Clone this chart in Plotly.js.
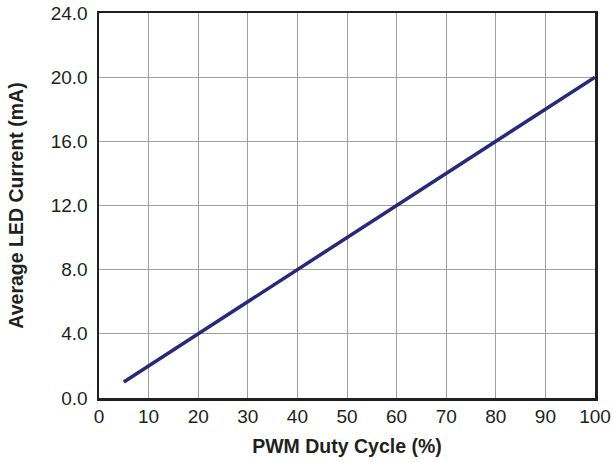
<!DOCTYPE html>
<html>
<head>
<script src="https://cdn.plot.ly/plotly-3.0.1.min.js"></script>
<style>body{margin:0;padding:0;background:#fff;}#chart{width:612px;height:462px;}</style>
</head>
<body>
<div id="chart"></div>
<script>
const dutyCycle = [5, 100];
const ledCurrent = [1.0, 20.0];
const xTicks = [0, 10, 20, 30, 40, 50, 60, 70, 80, 90, 100];
const yTicks = [0, 4, 8, 12, 16, 20, 24];
const yTickLabels = ["0.0", "4.0", "8.0", "12.0", "16.0", "20.0", "24.0"];

const tickFont = {family: "Liberation Sans, Arial, sans-serif", size: 19, color: "#231f20"};
const titleFont = {family: "Liberation Sans, Arial, sans-serif", size: 19.5, color: "#231f20"};

Plotly.newPlot("chart", [{
  x: dutyCycle, y: ledCurrent, mode: "lines", type: "scatter",
  line: {color: "#262a78", width: 3.5}, hoverinfo: "skip"
}], {
  width: 612, height: 462,
  margin: {l: 98.5, r: 16.5, t: 12.5, b: 63.5},
  paper_bgcolor: "#fff", plot_bgcolor: "#fff",
  showlegend: false,
  font: tickFont,
  xaxis: {
    range: [0, 100], tickvals: xTicks, ticktext: xTicks.map(String),
    showgrid: true, gridcolor: "#a0a0a0", gridwidth: 1,
    showline: true, linecolor: "#231f20", linewidth: 2.5, mirror: true,
    ticks: "", zeroline: false, tickfont: tickFont,
    title: {text: "<b>PWM Duty Cycle (%)</b>", font: titleFont, standoff: 13}
  },
  yaxis: {
    range: [0, 24], tickvals: yTicks, ticktext: yTickLabels,
    showgrid: true, gridcolor: "#a0a0a0", gridwidth: 1,
    showline: true, linecolor: "#231f20", linewidth: 2.5, mirror: true,
    ticks: "", zeroline: false, tickfont: tickFont, ticklabelstandoff: 5,
    title: {text: "<b>Average LED Current (mA)</b>", font: titleFont, standoff: 22}
  }
}, {staticPlot: true, displayModeBar: false});
</script>
</body>
</html>
